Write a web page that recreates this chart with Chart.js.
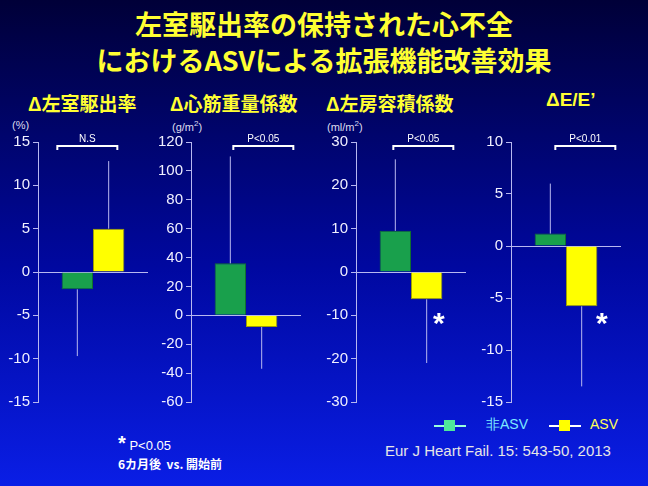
<!DOCTYPE html>
<html>
<head>
<meta charset="utf-8">
<script src="https://cdn.jsdelivr.net/npm/chart.js@4"></script>
<style>
  body { margin: 0; }
  #slide {
    position: relative; width: 648px; height: 486px; overflow: hidden;
    background: linear-gradient(to bottom, #000038 0%, #0008a0 55%, #0a1ee6 100%);
    font-family: "Noto Sans CJK JP", "Liberation Sans", sans-serif;
  }
  .t { position: absolute; white-space: nowrap; }
  .title { color: #ffff33; font-weight: bold; font-size: 27px; width: 648px; text-align: center; left: 0; }
  .sub { color: #ffff33; font-weight: bold; font-size: 19px; top: 89px; }
  .unit { color: #dde; font-size: 11px; top: 119px; font-family: "Liberation Sans", sans-serif; }
  .star { color: #fff; font-weight: bold; font-size: 30px; font-family: "Liberation Sans", sans-serif; }
  canvas { position: absolute; }
</style>
</head>
<body>
<div id="slide">
  <div class="t title" style="top:4px">左室駆出率の保持された心不全</div>
  <div class="t title" style="top:40px">におけるASVによる拡張機能改善効果</div>
  <div class="t sub" style="left:28px">Δ左室駆出率</div>
  <div class="t sub" style="left:170px">Δ心筋重量係数</div>
  <div class="t sub" style="left:326px">Δ左房容積係数</div>
  <div class="t sub" style="left:546px;font-family:'Liberation Sans',sans-serif">ΔE/E’</div>
  <div class="t unit" style="left:12px">(%)</div>
  <div class="t unit" style="left:172px">(g/m<sup style="font-size:8px">2</sup>)</div>
  <div class="t unit" style="left:327px">(ml/m<sup style="font-size:8px">2</sup>)</div>

  <canvas id="c0" style="left:0px;top:130px" width="152" height="284"></canvas>
  <canvas id="c1" style="left:153px;top:130px" width="152" height="284"></canvas>
  <canvas id="c2" style="left:318px;top:130px" width="152" height="284"></canvas>
  <canvas id="c3" style="left:473px;top:130px" width="152" height="284"></canvas>

  <div class="t star" style="left:433px;top:306px">*</div>
  <div class="t star" style="left:596px;top:306px">*</div>

  <div class="t" style="left:434px;top:425px;width:32px;height:2px;background:#9fd;"></div>
  <div class="t" style="left:444px;top:420px;width:11px;height:11px;background:#4ee89a;"></div>
  <div class="t" style="left:486px;top:416px;color:#7de8ff;font-size:14px;font-family:'Liberation Sans',sans-serif">非ASV</div>
  <div class="t" style="left:549px;top:425px;width:32px;height:2px;background:#fff;"></div>
  <div class="t" style="left:559px;top:420px;width:11px;height:11px;background:#ffff00;"></div>
  <div class="t" style="left:590px;top:416px;color:#ffff55;font-size:14px;font-family:'Liberation Sans',sans-serif">ASV</div>

  <div class="t" style="left:118px;top:432px;color:#fff;font-size:13px;font-family:'Liberation Sans',sans-serif"><b style="font-size:20px">*</b> P&lt;0.05</div>
  <div class="t" style="left:118px;top:455px;color:#fff;font-size:12px;font-weight:bold">6カ月後 &nbsp;vs. 開始前</div>
  <div class="t" style="left:385px;top:442px;color:#e6e6e6;font-size:15px;font-family:'Liberation Sans',sans-serif">Eur J Heart Fail. 15: 543-50, 2013</div>
</div>

<script>
// one panel per measure: [min, max, step]
var yRanges = [[-15, 15, 5], [-60, 120, 20], [-30, 30, 10], [-15, 10, 5]];
var nonAsvValues = [-2, 36, 9.5, 1.2];
var asvValues = [5, -8, -6.3, -5.8];
// end point of each error bar
var nonAsvErrEnd = [-9.7, 110, 26, 6];
var asvErrEnd = [12.8, -37, -21, -13.5];
var pLabels = ['N.S', 'P<0.05', 'P<0.05', 'P<0.01'];
// bracket start relative to the green bar centre, px
var bracketShift = [-20, 3, -2, 5];

var axisColor = '#b8b8f0';

var errorBars = {
    id: 'errorBars',
    afterDatasetsDraw: function(chart) {
        var ctx = chart.ctx;
        var y = chart.scales.y;
        ctx.save();
        ctx.strokeStyle = axisColor;
        ctx.lineWidth = 1;
        chart.data.datasets.forEach(function(ds, i) {
            var bar = chart.getDatasetMeta(i).data[0];
            ctx.beginPath();
            ctx.moveTo(bar.x, y.getPixelForValue(ds.data[0]));
            ctx.lineTo(bar.x, y.getPixelForValue(ds.errEnd));
            ctx.stroke();
        });
        // significance bracket
        var a = chart.getDatasetMeta(0).data[0];
        var x1 = a.x + chart.options.bracketShift, x2 = x1 + 60, top = chart.chartArea.top + 4;
        ctx.strokeStyle = '#fff';
        ctx.lineWidth = 2;
        ctx.beginPath();
        ctx.moveTo(x1, top + 4);
        ctx.lineTo(x1, top);
        ctx.lineTo(x2, top);
        ctx.lineTo(x2, top + 4);
        ctx.stroke();
        ctx.fillStyle = '#fff';
        ctx.font = '10px "Liberation Sans", sans-serif';
        ctx.textAlign = 'center';
        ctx.textBaseline = 'bottom';
        ctx.fillText(chart.options.pLabel, (x1 + x2) / 2, top - 2);
        ctx.restore();
    }
};

function makePanel(i) {
    var r = yRanges[i];
    new Chart(document.getElementById('c' + i), {
        type: 'bar',
        data: {
            labels: [''],
            datasets: [
                { label: '非ASV', data: [nonAsvValues[i]], errEnd: nonAsvErrEnd[i], backgroundColor: '#19a04c', borderColor: '#107030', borderWidth: 1 },
                { label: 'ASV', data: [asvValues[i]], errEnd: asvErrEnd[i], backgroundColor: '#ffff00', borderColor: '#a0a000', borderWidth: 1 }
            ]
        },
        options: {
            responsive: false,
            animation: false,
            pLabel: pLabels[i],
            bracketShift: bracketShift[i],
            layout: { padding: { top: 4, right: 4, bottom: 4 } },
            plugins: { legend: { display: false }, tooltip: { enabled: false } },
            datasets: { bar: { barPercentage: 1, categoryPercentage: 0.57 } },
            scales: {
                x: { display: false },
                y: {
                    min: r[0], max: r[1],
                    afterFit: function(s) { s.width = 38; },
                    ticks: { stepSize: r[2], color: '#f0f0ff', font: { size: 15, family: '"Liberation Sans Narrow", "Liberation Sans", sans-serif' }, padding: 3 },
                    border: { color: axisColor },
                    grid: {
                        color: function(c) { return c.tick && c.tick.value === 0 ? axisColor : 'transparent'; },
                        tickColor: axisColor,
                        tickLength: 5
                    }
                }
            }
        },
        plugins: [errorBars]
    });
}

for (var i = 0; i < 4; i++) makePanel(i);
</script>
</body>
</html>
